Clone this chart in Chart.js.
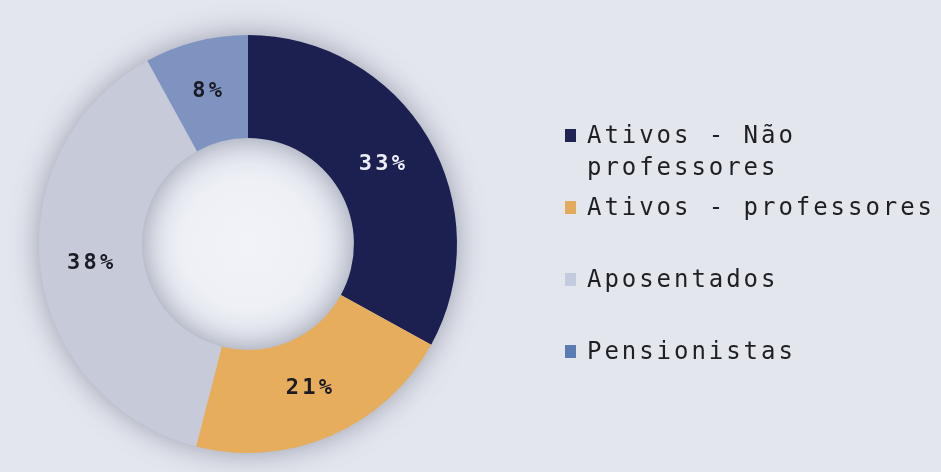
<!DOCTYPE html>
<html>
<head>
<meta charset="utf-8">
<script src="https://cdn.jsdelivr.net/npm/chart.js@4"></script>
<style>
  html, body { margin: 0; padding: 0; background: #e4e6ee; }
  #wrap { width: 941px; height: 472px; }
</style>
</head>
<body>
<div id="wrap"><canvas id="c" width="941" height="472"></canvas></div>
<script>
// ---- data ----
const categories = ['Ativos - Não professores', 'Ativos - professores', 'Aposentados', 'Pensionistas'];
const legendLines = [['Ativos - Não', 'professores'], ['Ativos - professores'], ['Aposentados'], ['Pensionistas']];
const shares = [33, 21, 38, 8];
const sliceColors = ['#1c2050', '#e6ad5c', '#c7cbd9', '#7f93c1'];
const markerColors = ['#1f2452', '#e2aa5a', '#c3cbde', '#5b7cb2'];
const labelColors = ['#eceef6', '#1b1b26', '#1b1b26', '#1b1b26'];

const BG = '#e4e6ee';

function spacedText(ctx, text, x, y, advance, align) {
  const chars = Array.from(text);
  let start = x;
  const total = advance * chars.length;
  if (align === 'center') start = x - total / 2;
  chars.forEach((ch, i) => {
    ctx.fillText(ch, start + i * advance, y);
  });
}

const decorPlugin = {
  id: 'decor',
  beforeDraw(chart) {
    const ctx = chart.ctx;
    ctx.save();
    ctx.fillStyle = BG;
    ctx.fillRect(0, 0, chart.width, chart.height);
    ctx.restore();
  },
  beforeDatasetsDraw(chart) {
    const ctx = chart.ctx;
    const arc = chart.getDatasetMeta(0).data[0];
    if (!arc) return;
    const { x, y, innerRadius, outerRadius } = arc.getProps(['x', 'y', 'innerRadius', 'outerRadius'], true);
    ctx.save();
    const g = ctx.createRadialGradient(x, y, 0, x, y, innerRadius);
    g.addColorStop(0, '#f1f3f8');
    g.addColorStop(0.6, '#eef0f6');
    g.addColorStop(1, '#e2e5ee');
    ctx.fillStyle = g;
    ctx.beginPath();
    ctx.arc(x, y, innerRadius, 0, Math.PI * 2);
    ctx.fill();
    ctx.shadowColor = 'rgba(120,126,145,0.8)';
    ctx.shadowBlur = 32;
    ctx.fillStyle = sliceColors[2];
    ctx.beginPath();
    ctx.arc(x, y, outerRadius - 2, 0, Math.PI * 2);
    ctx.arc(x, y, innerRadius + 2, 0, Math.PI * 2, true);
    ctx.closePath();
    ctx.fill();
    ctx.restore();
  },
  afterDatasetsDraw(chart) {
    const ctx = chart.ctx;
    const meta = chart.getDatasetMeta(0);
    ctx.save();
    ctx.font = 'bold 22px "DejaVu Sans Mono"';
    ctx.textBaseline = 'middle';
    ctx.textAlign = 'left';
    meta.data.forEach((el, i) => {
      const p = el.tooltipPosition();
      ctx.fillStyle = labelColors[i];
      spacedText(ctx, shares[i] + '%', p.x, p.y, 16.5, 'center');
    });
    ctx.restore();

    ctx.save();
    ctx.font = '24px "DejaVu Sans Mono"';
    ctx.textBaseline = 'alphabetic';
    ctx.textAlign = 'left';
    const lx = 565, tx = 587, firstBase = 143, step = 72, lineH = 32;
    legendLines.forEach((lines, i) => {
      const base = firstBase + i * step;
      ctx.fillStyle = markerColors[i];
      ctx.fillRect(lx, base - 14, 11, 13);
      ctx.fillStyle = '#1e1e24';
      lines.forEach((ln, j) => {
        spacedText(ctx, ln, tx, base + j * lineH, 17.4, 'left');
      });
    });
    ctx.restore();
  }
};

new Chart(document.getElementById('c'), {
  type: 'doughnut',
  data: {
    labels: categories,
    datasets: [{
      data: shares,
      backgroundColor: sliceColors,
      borderWidth: 0,
      hoverOffset: 0
    }]
  },
  options: {
    responsive: false,
    animation: false,
    cutout: '50.7%',
    layout: { padding: { left: 39, top: 35, right: 484, bottom: 19 } },
    plugins: {
      legend: { display: false },
      tooltip: { enabled: false }
    }
  },
  plugins: [decorPlugin]
});
</script>
</body>
</html>
